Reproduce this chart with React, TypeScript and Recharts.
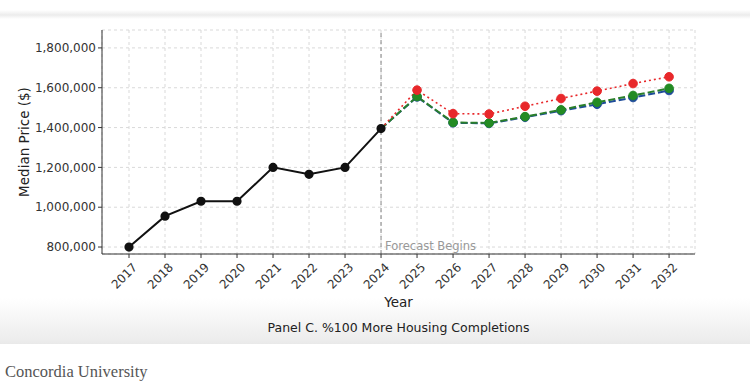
import React from "react";
import {
  LineChart,
  Line,
  XAxis,
  YAxis,
  CartesianGrid,
  ReferenceLine,
} from "recharts";

const years = [2017, 2018, 2019, 2020, 2021, 2022, 2023, 2024, 2025, 2026, 2027, 2028, 2029, 2030, 2031, 2032];

const historical = [800000, 955000, 1030000, 1030000, 1200000, 1165000, 1200000, 1395000, null, null, null, null, null, null, null, null];
const redScenario = [null, null, null, null, null, null, null, 1395000, 1588000, 1470000, 1468000, 1507000, 1546000, 1583000, 1621000, 1655000];
const greenScenario = [null, null, null, null, null, null, null, 1395000, 1556000, 1426000, 1423000, 1455000, 1489000, 1527000, 1561000, 1597000];
const blueScenario = [null, null, null, null, null, null, null, 1395000, 1554000, 1424000, 1421000, 1452000, 1485000, 1517000, 1551000, 1586000];

const yTicks = [800000, 1000000, 1200000, 1400000, 1600000, 1800000];

const data = years.map((year, i) => ({
  year,
  historical: historical[i],
  red: redScenario[i],
  green: greenScenario[i],
  blue: blueScenario[i],
}));

const FONT = "DejaVu Sans";

// skip the dot on the shared 2024 point, the black series owns it
function forecastDot(color: string) {
  return (props: any) => {
    const { cx, cy, payload, index } = props;
    if (payload.year === 2024 || cx == null || cy == null) return <g key={index} />;
    return <circle key={index} cx={cx} cy={cy} r={4.3} fill={color} stroke={color} />;
  };
}

export default function App() {
  return (
    <div
      style={{
        position: "absolute",
        left: 0,
        top: 0,
        width: 750,
        height: 388,
        background: "#fff",
        overflow: "hidden",
        fontFamily: FONT,
      }}
    >
      <div
        style={{
          position: "absolute",
          left: 0,
          top: 10,
          width: 750,
          height: 9,
          background: "linear-gradient(#fff, #ececec 55%, #fff)",
        }}
      />
      <div
        style={{
          position: "absolute",
          left: 0,
          top: 298,
          width: 750,
          height: 46,
          background: "linear-gradient(#fff, #ededed 90%, #e9e9e9)",
        }}
      />
      <div style={{ position: "absolute", left: 0, top: 0 }}>
        <LineChart
          width={750}
          height={315}
          data={data}
          margin={{ top: 30, right: 55, left: 0, bottom: 0 }}
        >
          <CartesianGrid stroke="#d9d9d9" strokeDasharray="3 3" />
          <XAxis
            dataKey="year"
            type="number"
            domain={[2016.25, 2032.72]}
            ticks={years}
            interval={0}
            allowDataOverflow
            height={61}
            axisLine={{ stroke: "#333" }}
            tickLine={{ stroke: "#333" }}
            tickSize={4}
            tick={{ fill: "#333", fontSize: 12, fontFamily: FONT, angle: -45, textAnchor: "end", dy: 2, dx: 3 }}
            label={{ value: "Year", position: "insideBottom", offset: 8, fill: "#222", fontSize: 13.5, fontFamily: FONT }}
          />
          <YAxis
            type="number"
            domain={[765000, 1890000]}
            ticks={yTicks}
            allowDataOverflow
            width={102}
            axisLine={{ stroke: "#333" }}
            tickLine={{ stroke: "#333" }}
            tickSize={4}
            tickFormatter={(v: number) => v.toLocaleString("en-US")}
            tick={{ fill: "#333", fontSize: 12, fontFamily: FONT }}
            label={{
              value: "Median Price ($)",
              angle: -90,
              position: "insideLeft",
              offset: 24,
              style: { textAnchor: "middle" },
              fill: "#222",
              fontSize: 13.5,
              fontFamily: FONT,
            }}
          />
          <ReferenceLine
            x={2024}
            stroke="#888"
            strokeDasharray="4 3"
            strokeWidth={1}
            label={{ value: "Forecast Begins", position: "insideBottomLeft", offset: 4, fill: "#999", fontSize: 11.5, fontFamily: FONT }}
          />
          <Line
            dataKey="blue"
            stroke="#1f4c9a"
            strokeWidth={2}
            strokeDasharray="7 3"
            dot={forecastDot("#1f4c9a")}
            isAnimationActive={false}
          />
          <Line
            dataKey="green"
            stroke="#2a7f2a"
            strokeWidth={2}
            strokeDasharray="7 3"
            dot={forecastDot("#238b23")}
            isAnimationActive={false}
          />
          <Line
            dataKey="red"
            stroke="#e8282b"
            strokeWidth={1.6}
            strokeDasharray="2 3"
            dot={forecastDot("#e8282b")}
            isAnimationActive={false}
          />
          <Line
            dataKey="historical"
            stroke="#111"
            strokeWidth={2}
            dot={{ r: 3.6, fill: "#111", stroke: "#111" }}
            isAnimationActive={false}
          />
        </LineChart>
      </div>
      <div
        style={{
          position: "absolute",
          left: 0,
          top: 320,
          width: 797,
          textAlign: "center",
          fontSize: 12.5,
          color: "#222",
        }}
      >
        Panel C. %100 More Housing Completions
      </div>
      <div
        style={{
          position: "absolute",
          left: 5,
          top: 362,
          fontFamily: "Liberation Serif",
          fontSize: 16.5,
          color: "#555",
        }}
      >
        Concordia University
      </div>
    </div>
  );
}
